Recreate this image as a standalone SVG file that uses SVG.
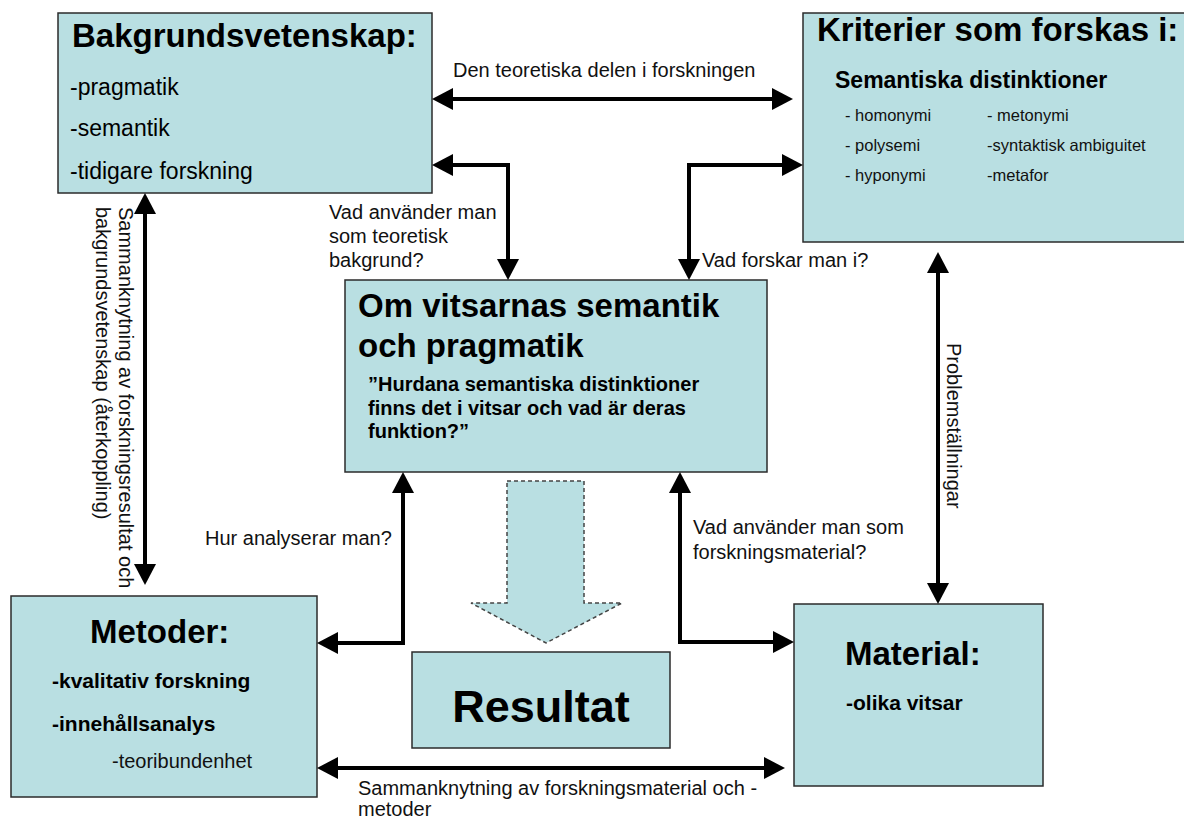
<svg xmlns="http://www.w3.org/2000/svg" width="1184" height="818" viewBox="0 0 1184 818">
<style>
.box{fill:#b9dfe2;stroke:#2b2b2b;stroke-width:1.5}
.t{font-family:"Liberation Sans",Arial,sans-serif;fill:#000}
.h{font-size:33px;font-weight:bold}
.b21{font-size:21px;font-weight:bold}
.r23{font-size:23px}
.lbl{font-size:20px;fill:#111}
.sm{font-size:16.5px;fill:#111}
.c{fill:none;stroke:#000;stroke-width:4;stroke-linejoin:miter}
</style>
<defs>
<marker id="ah" markerUnits="userSpaceOnUse" markerWidth="22" markerHeight="24" viewBox="0 -12 22 24" refX="6" refY="0" orient="auto-start-reverse">
<path d="M0,-11 L21,0 L0,11 z" fill="#000"/>
</marker>
</defs>
<rect width="1184" height="818" fill="#fff"/>

<g id="bakgrund">
<rect class="box" x="58" y="13" width="374" height="180"/>
<text class="t h" x="72" y="47">Bakgrundsvetenskap:</text>
<text class="t r23" x="70" y="95">-pragmatik</text>
<text class="t r23" x="70" y="136">-semantik</text>
<text class="t r23" x="70" y="179">-tidigare forskning</text>
</g>

<g id="kriterier">
<rect class="box" x="803" y="13" width="390" height="229"/>
<text class="t h" x="817" y="41">Kriterier som forskas i:</text>
<text class="t" x="835" y="88" font-size="23" font-weight="bold">Semantiska distinktioner</text>
<text class="t sm" x="845" y="121">- homonymi</text>
<text class="t sm" x="845" y="151">- polysemi</text>
<text class="t sm" x="845" y="181">- hyponymi</text>
<text class="t sm" x="987" y="121">- metonymi</text>
<text class="t sm" x="987" y="151">-syntaktisk ambiguitet</text>
<text class="t sm" x="987" y="181">-metafor</text>
</g>

<g id="om">
<rect class="box" x="345" y="280" width="422" height="192"/>
<text class="t h" x="358" y="317">Om vitsarnas semantik</text>
<text class="t h" x="358" y="357">och pragmatik</text>
<text class="t" x="368" y="391" font-size="20" font-weight="bold">”Hurdana semantiska distinktioner</text>
<text class="t" x="368" y="415" font-size="20" font-weight="bold">finns det i vitsar och vad är deras</text>
<text class="t" x="368" y="438" font-size="20" font-weight="bold">funktion?”</text>
</g>

<g id="metoder">
<rect class="box" x="11" y="596" width="306" height="201"/>
<text class="t h" x="90" y="643">Metoder:</text>
<text class="t b21" x="52" y="688">-kvalitativ forskning</text>
<text class="t b21" x="52" y="731">-innehållsanalys</text>
<text class="t lbl" x="112" y="768">-teoribundenhet</text>
</g>

<g id="resultat">
<rect class="box" x="412" y="652" width="258" height="96"/>
<text class="t" x="541" y="722" font-size="45" font-weight="bold" text-anchor="middle">Resultat</text>
</g>

<g id="material">
<rect class="box" x="794" y="604" width="249" height="182"/>
<text class="t h" x="845" y="665">Material:</text>
<text class="t b21" x="846" y="710">-olika vitsar</text>
</g>

<g id="resultatpil">
<polygon points="507,481 584,481 584,603 622,603 546,643 471,603 507,603" fill="#b9dfe2" stroke="#444" stroke-width="1.5" stroke-dasharray="4,3"/>
</g>

<g id="connectors">
<path class="c" d="M447,99 H778" marker-start="url(#ah)" marker-end="url(#ah)"/>
<path class="c" d="M447,165 H508 V265" marker-start="url(#ah)" marker-end="url(#ah)"/>
<path class="c" d="M788,165 H689 V265" marker-start="url(#ah)" marker-end="url(#ah)"/>
<path class="c" d="M145,208 V570" marker-start="url(#ah)" marker-end="url(#ah)"/>
<path class="c" d="M938,267 V589" marker-start="url(#ah)" marker-end="url(#ah)"/>
<path class="c" d="M403,487 V643 H332" marker-start="url(#ah)" marker-end="url(#ah)"/>
<path class="c" d="M680,487 V642 H779" marker-start="url(#ah)" marker-end="url(#ah)"/>
<path class="c" d="M332,768 H770" marker-start="url(#ah)" marker-end="url(#ah)"/>

<text class="t lbl" x="453" y="77">Den teoretiska delen i forskningen</text>
<text class="t lbl" x="329" y="219">Vad använder man</text>
<text class="t lbl" x="329" y="243">som teoretisk</text>
<text class="t lbl" x="329" y="267">bakgrund?</text>
<text class="t lbl" x="702" y="267">Vad forskar man i?</text>
<text class="t lbl" x="205" y="545">Hur analyserar man?</text>
<text class="t lbl" x="693" y="534">Vad använder man som</text>
<text class="t lbl" x="693" y="559">forskningsmaterial?</text>
<text class="t lbl" x="358" y="795">Sammanknytning av forskningsmaterial och -</text>
<text class="t lbl" x="358" y="816">metoder</text>
<text class="t lbl" transform="translate(119,207) rotate(90)">Sammanknytning av forskningsresultat och</text>
<text class="t lbl" transform="translate(96,207) rotate(90)">bakgrundsvetenskap (återkoppling)</text>
<text class="t lbl" font-size="19" transform="translate(947,343) rotate(90)">Problemställningar</text>
</g>
</svg>
